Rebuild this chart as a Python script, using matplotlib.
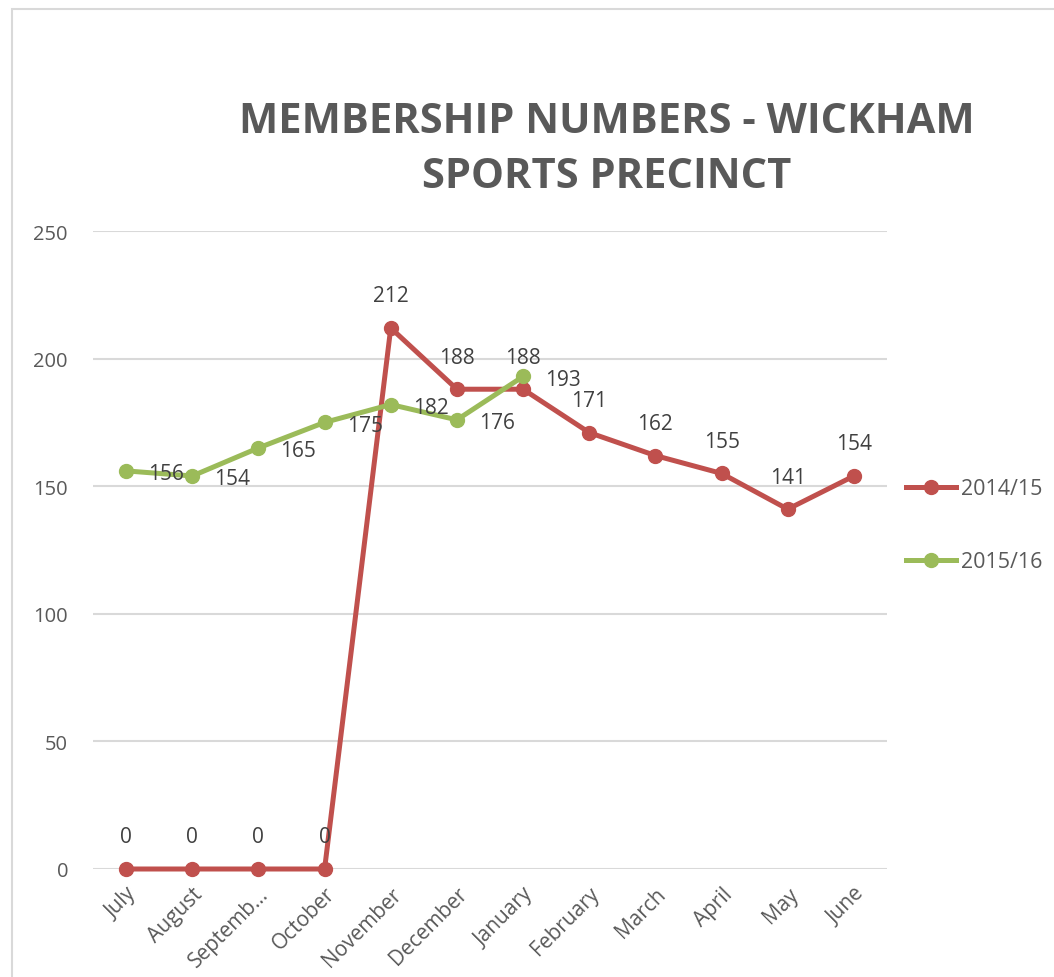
import matplotlib
matplotlib.use("Agg")
import matplotlib.pyplot as plt
from matplotlib.patches import Rectangle
from matplotlib.lines import Line2D

months = ["July", "August", "Septemb...", "October", "November", "December",
          "January", "February", "March", "April", "May", "June"]
series_2014 = [0, 0, 0, 0, 212, 188, 188, 171, 162, 155, 141, 154]
series_2015 = [156, 154, 165, 175, 182, 176, 193]
yticks = [0, 50, 100, 150, 200, 250]
title = "MEMBERSHIP NUMBERS - WICKHAM\nSPORTS PRECINCT"

RED = "#C0504D"
GREEN = "#9BBB59"
TXT = "#595959"
LBL = "#404040"
GRID = "#D9D9D9"

plt.rcParams['font.family'] = ['Open Sans', 'DejaVu Sans']

W, H = 1054, 978
fig = plt.figure(figsize=(W / 100, H / 100), dpi=100)
fig.patch.set_facecolor("white")

# chart-area border
fig.add_artist(Rectangle((12 / W, -0.1), 1.2, 1 - 10 / H + 0.1, transform=fig.transFigure,
                         fill=False, edgecolor=GRID, linewidth=1.5))

ax = fig.add_axes([93 / W, 1 - 870 / H, (887 - 93) / W, (870 - 232) / H])
ax.set_xlim(-0.5, len(months) - 0.5)
ax.set_ylim(0, 250)
ax.set_yticks(yticks)
ax.set_xticks(range(len(months)))
ax.set_xticklabels(months, rotation=45, ha="right", rotation_mode="anchor")
ax.tick_params(axis="both", length=0, labelsize=14.5, labelcolor=TXT)
ax.tick_params(axis="x", labelsize=15)
ax.tick_params(axis="y", pad=18)
ax.tick_params(axis="x", pad=10)
for s in ax.spines.values():
    s.set_visible(False)
ax.grid(axis="y", color=GRID, linewidth=1.5)
ax.set_axisbelow(True)
ax.patch.set_alpha(0)

xs1 = list(range(len(series_2014)))
xs2 = list(range(len(series_2015)))
ax.plot(xs1, series_2014, color=RED, linewidth=3.6, marker="o", markersize=10,
        solid_capstyle="round", zorder=3, clip_on=False)
ax.plot(xs2, series_2015, color=GREEN, linewidth=3.6, marker="o", markersize=10,
        solid_capstyle="round", zorder=4, clip_on=False)

for x, v in zip(xs1, series_2014):
    ax.annotate(str(v), (x, v), xytext=(0, 32), textcoords="offset pixels",
                ha="center", va="center", fontsize=15, color=LBL, zorder=5)
for x, v in zip(xs2, series_2015):
    ax.annotate(str(v), (x, v), xytext=(22, -3), textcoords="offset pixels",
                ha="left", va="center", fontsize=15, color=LBL, zorder=5)

fig.text(607 / W, 1 - 150 / H, title, ha="center", va="center", fontsize=30,
         fontweight="bold", color=TXT, linespacing=1.45)

handles = [Line2D([0], [0], color=RED, linewidth=3.6, marker="o", markersize=10),
           Line2D([0], [0], color=GREEN, linewidth=3.6, marker="o", markersize=10)]
fig.legend(handles, ["2014/15", "2015/16"], loc="upper left",
           bbox_to_anchor=(900 / W, 1 - 473 / H), frameon=False, fontsize=15.5,
           labelcolor=TXT, handlelength=2.3, labelspacing=2.4, handletextpad=0.25,
           borderaxespad=0, borderpad=0.3)

fig.savefig("out.png", dpi=100, facecolor="white")
